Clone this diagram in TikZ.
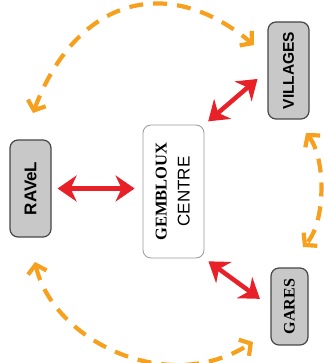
\documentclass[tikz,border=0pt]{standalone}
\usepackage{fontspec}
\setmainfont{Liberation Serif}
\setsansfont{Liberation Sans}
\usetikzlibrary{arrows.meta}

\definecolor{linkred}{RGB}{232,32,40}
\definecolor{dashorange}{RGB}{246,160,30}
\definecolor{boxgray}{RGB}{200,200,200}
\definecolor{boxedge}{RGB}{70,70,70}

\begin{document}
\begin{tikzpicture}[x=1pt,y=1pt,
    placebox/.style={draw=boxedge, fill=boxgray, line width=1.2pt, rounded corners=8pt, inner sep=0pt},
    centrebox/.style={draw=black!40, fill=white, line width=0.8pt, rounded corners=8pt, inner sep=0pt},
    redlink/.style={linkred, line width=4.5pt, >={Stealth[length=19pt,width=26pt,inset=6pt]}, <->},
    orangelink/.style={dashorange, line width=4.2pt, dash pattern=on 14pt off 10pt, >={Straight Barb[length=8pt,width=19pt]}, <->}]
            \useasboundingbox (0,0) rectangle (323,363);

            % places
            \node[placebox, minimum width=41pt, minimum height=97pt] (ravel) at (30.5,174.5)
                {\rotatebox{90}{\sffamily\bfseries\fontsize{17}{19}\selectfont RAVeL}};
            \node[centrebox, minimum width=61pt, minimum height=133pt] (centre) at (173.5,171.5)
                {\rotatebox{90}{\fontsize{16.5}{23}\selectfont\begin{tabular}{@{}c@{}}
                    {\bfseries GEMBLOUX}\\
                    {\sffamily\fontsize{17}{19}\selectfont CENTRE}
                \end{tabular}}};
            \node[placebox, minimum width=41pt, minimum height=97pt] (villages) at (288.5,292.5)
                {\rotatebox{90}{\sffamily\bfseries\fontsize{15.5}{18}\selectfont VILLAGES}};
            \node[placebox, minimum width=37pt, minimum height=77pt] (gares) at (289.5,56.5)
                {\rotatebox{90}{\bfseries\fontsize{16}{18}\selectfont GARES}};

            % ends of the dashed arcs
            \coordinate (T1) at (33,250);
            \coordinate (T2) at (254,318);
            \coordinate (R1) at (306,230);
            \coordinate (R2) at (303,116);
            \coordinate (B1) at (35,101);
            \coordinate (B2) at (253,21);

            % links to the centre
            \draw[redlink, shorten <=6pt, shorten >=8pt] (ravel.east) -- (ravel.east -| centre.west);
            \draw[redlink, shorten <=5pt, shorten >=13pt] (centre.north east) -- (villages.west);
            \draw[redlink, shorten <=5pt, shorten >=13pt] (centre.south east) -- (gares.west);

            % links between the places
            \draw[orangelink] (T1) .. controls (75,362) and (165,392) .. (T2);
            \draw[orangelink] (R1) .. controls (326,205) and (326,140) .. (R2);
            \draw[orangelink] (B1) .. controls (52,25) and (165,-35) .. (B2);
        \end{tikzpicture}
\end{document}
